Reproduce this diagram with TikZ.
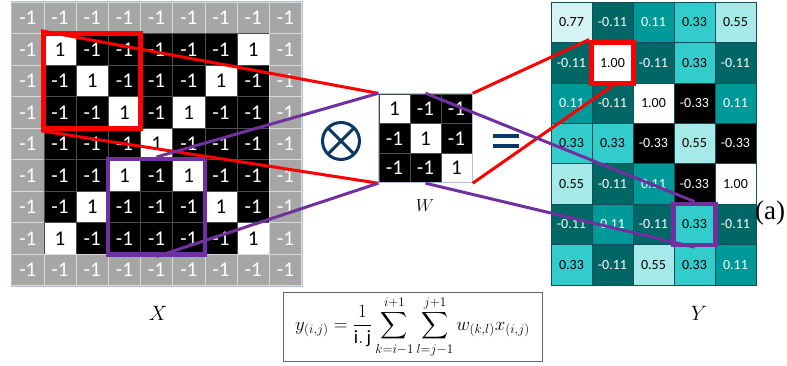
\documentclass[tikz,border=0pt]{standalone}
\usepackage{amsmath}
\usepackage{xcolor}
\usepackage{fontspec}
\setmainfont{Carlito}
\newfontfamily\tagfont{Liberation Serif}
\usepackage{tikz}
\usetikzlibrary{fit}

\definecolor{padgray}{HTML}{A6A6A6}
\definecolor{padline}{HTML}{D9D9D9}
\definecolor{gridblue}{HTML}{A9C4DC}
\definecolor{opblue}{HTML}{0C3866}
\definecolor{boxpurple}{HTML}{7030A0}
\definecolor{ygrid}{HTML}{0F4F55}
\definecolor{tealA}{HTML}{D4F4F4}
\definecolor{tealB}{HTML}{A5E9E9}
\definecolor{tealC}{HTML}{33CCCC}
\definecolor{tealD}{HTML}{009999}
\definecolor{tealE}{HTML}{006666}

% cell texts for the three kinds of input cell
\newcommand\cellxp{-1}
\newcommand\cellxm{-1}
\newcommand\cellxo{1}

\begin{document}
\begin{tikzpicture}[x=1pt,y=-1pt,
  xcell/.style={minimum width=32.2pt, minimum height=31.5pt, inner sep=0pt, line width=0.6pt, font=\fontsize{21}{21}\selectfont},
  wcell/.style={minimum width=31pt, minimum height=29.5pt, inner sep=0pt, line width=0.6pt, font=\fontsize{21}{21}\selectfont},
  xp/.style={fill=padgray, draw=padline, text=white},
  xm/.style={fill=black, draw=black!70, text=white},
  xo/.style={fill=white, draw=black!70, text=black},
  ycell/.style={draw=ygrid, line width=0.7pt, minimum width=41pt, minimum height=40.43pt, inner sep=0pt, font=\fontsize{14}{14}\selectfont},
  y0.77/.style={fill=tealA, text=black},
  y0.55/.style={fill=tealB, text=black},
  y0.33/.style={fill=tealC, text=black},
  y0.11/.style={fill=tealD, text=white},
  y-0.11/.style={fill=tealE, text=white},
  y-0.33/.style={fill=black, text=white},
  y1.00/.style={fill=white, text=black},
  redbox/.style={draw=red, line width=5pt, inner sep=0pt},
  purplebox/.style={draw=boxpurple, line width=4.5pt, inner sep=0pt},
  link/.style={line width=3pt}]
\useasboundingbox (0,0) rectangle (787,365);

% input X
\foreach \row [count=\r from 0] in {
  {xp,xp,xp,xp,xp,xp,xp,xp,xp},
  {xp,xo,xm,xm,xm,xm,xm,xo,xp},
  {xp,xm,xo,xm,xm,xm,xo,xm,xp},
  {xp,xm,xm,xo,xm,xo,xm,xm,xp},
  {xp,xm,xm,xm,xo,xm,xm,xm,xp},
  {xp,xm,xm,xo,xm,xo,xm,xm,xp},
  {xp,xm,xo,xm,xm,xm,xo,xm,xp},
  {xp,xo,xm,xm,xm,xm,xm,xo,xp},
  {xp,xp,xp,xp,xp,xp,xp,xp,xp}}
  \foreach \typ [count=\c from 0] in \row
    \node[xcell,\typ] (x-\r-\c) at ({11.7+32.2*(\c+0.5)},{2+31.5*(\r+0.5)}) {\csname cell\typ\endcsname};
\node[draw=gridblue, line width=0.6pt, inner sep=0pt, fit=(x-0-0)(x-8-8)] (x) {};
\node (xlab) at (158,313) {\fontsize{20.74}{21}\selectfont $X$};

% kernel W
\foreach \row [count=\r from 0] in {{xo,xm,xm},{xm,xo,xm},{xm,xm,xo}}
  \foreach \typ [count=\c from 0] in \row
    \node[wcell,\typ] (w-\r-\c) at ({379+31*(\c+0.5)},{94+29.5*(\r+0.5)}) {\csname cell\typ\endcsname};
\node[draw=gridblue, line width=0.8pt, inner sep=0pt, fit=(w-0-0)(w-2-2)] (w) {};
\node (wlab) at (425,206) {\fontsize{17.28}{18}\selectfont $W$};

% output Y
\foreach \row [count=\r from 0] in {
  {0.77,-0.11,0.11,0.33,0.55},
  {-0.11,1.00,-0.11,0.33,-0.11},
  {0.11,-0.11,1.00,-0.33,0.11},
  {0.33,0.33,-0.33,0.55,-0.33},
  {0.55,-0.11,0.11,-0.33,1.00},
  {-0.11,0.11,-0.11,0.33,-0.11},
  {0.33,-0.11,0.55,0.33,0.11}}
  \foreach \v [count=\c from 0] in \row
    \node[ycell,y\v] (y-\r-\c) at ({551+41*(\c+0.5)},{2+40.43*(\r+0.5)}) {\v};
\node (ylab) at (699,313) {\fontsize{20.74}{21}\selectfont $Y$};

% windows
\node[redbox, fit=(x-1-1)(x-3-3)] (xred) {};
\node[purplebox, fit=(x-5-3)(x-7-5)] (xpur) {};
\node[redbox, fit=(y-1-1)] (yred) {};
\node[purplebox, fit=(y-5-3)] (ypur) {};

% links
\draw[link, red] (xred.north west) -- (w.north west);
\draw[link, red] (xred.south west) -- (w.south west);
\draw[link, boxpurple] (xpur.north) -- (w.north west);
\draw[link, boxpurple] (xpur.south) -- (w.south west);
\draw[link, red] (w.north east) -- (yred.north west);
\draw[link, red] (w.south east) -- (yred.south);
\draw[link, boxpurple] (w.north) -- (ypur.north);
\draw[link, boxpurple] (w.south) -- (ypur.south);

% operators
\node[circle, draw=opblue, line width=3pt, outer sep=0pt, minimum size=37pt] (conv) at (341,141) {};
\draw[opblue, line width=3pt] (conv.north west) -- (conv.south east);
\draw[opblue, line width=3pt] (conv.north east) -- (conv.south west);
\fill[opblue] (493,134) rectangle (519,138);
\fill[opblue] (493,144) rectangle (519,148);

% formula and tag
\node[draw=black!60, line width=0.8pt, minimum width=259pt, minimum height=69pt] (eqn) at (412.5,326.5)
  {\fontsize{17.28}{18}\selectfont\scalebox{1.09}{$\displaystyle y_{(i,j)}=\frac{1}{\mathrm{i.\,j}}\sum_{k=i-1}^{i+1}\sum_{l=j-1}^{j+1} w_{(k,l)}x_{(i,j)}$}};
\node[font=\tagfont\fontsize{27}{27}\selectfont] (tag) at (770,213) {(a)};
\end{tikzpicture}
\end{document}
